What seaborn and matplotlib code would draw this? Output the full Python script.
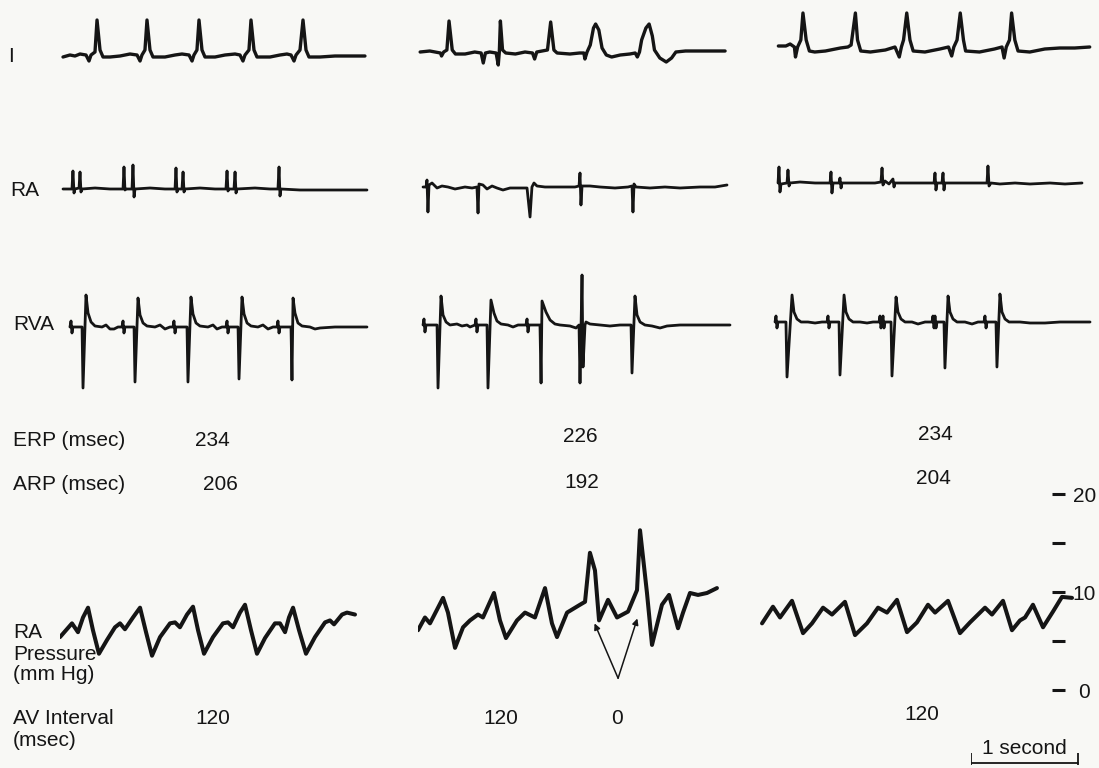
import numpy as np
import pandas as pd
import matplotlib
matplotlib.use("Agg")
import matplotlib.pyplot as plt
import seaborn as sns

# Traces. Time in seconds from the start of each panel,
# ECG deflections in mm of paper, RA pressure in mm Hg.

# lead I
I1_T = [0.028, 0.093, 0.140, 0.187, 0.243, 0.271, 0.290, 0.327, 0.346, 0.374, 0.402, 0.467, 0.561, 0.654,
        0.720, 0.748, 0.766, 0.794, 0.813, 0.841, 0.869, 0.981, 1.075, 1.140, 1.206, 1.234, 1.252, 1.280,
        1.299, 1.327, 1.355, 1.449, 1.542, 1.636, 1.682, 1.710, 1.729, 1.766, 1.785, 1.813, 1.841, 1.963,
        2.056, 2.121, 2.159, 2.187, 2.206, 2.243, 2.271, 2.299, 2.327, 2.430, 2.570, 2.710, 2.850]
I1_V = [-0.2, 0, -0.1, 0.1, 0, -0.6, 0, 0.3, 3.5, 0.5, -0.2, -0.2, -0.1, 0.1,
        0, -0.6, 0, 0.5, 3.5, 0.5, -0.2, -0.2, 0, 0.1, 0, -0.6, 0, 0.5,
        3.5, 0.5, -0.2, -0.2, 0, 0.1, 0, -0.6, 0, 0.5, 3.5, 0.5, -0.2, -0.2,
        0, 0.1, 0, -0.6, 0, 0.5, 3.5, 0.5, -0.2, -0.2, -0.1, -0.1, -0.1]
I2_T = [0.02, 0.11, 0.21, 0.22, 0.24, 0.27, 0.29, 0.32, 0.35, 0.44, 0.53, 0.59, 0.61, 0.63, 0.67, 0.73,
        0.75, 0.76, 0.77, 0.79, 0.82, 0.91, 1.00, 1.07, 1.09, 1.11, 1.21, 1.24, 1.27, 1.30, 1.42, 1.51,
        1.55, 1.56, 1.58, 1.61, 1.64, 1.66, 1.69, 1.72, 1.76, 1.81, 1.89, 1.98, 2.03, 2.05, 2.07, 2.09,
        2.13, 2.16, 2.19, 2.21, 2.26, 2.32, 2.37, 2.41, 2.50, 2.64, 2.78, 2.87]
I2_V = [0, 0.1, -0.1, -0.4, 0, 0.2, 3.1, 0.2, -0.2, -0.2, 0, -0.1, -1.1, -0.1, 0, -0.1,
        -1.3, 0, 3.1, 0.2, -0.1, -0.2, 0, -0.1, -0.7, 0, 0.2, 3.0, 0.2, -0.1, -0.2, -0.1,
        -0.1, -0.7, 0, 0.7, 2.4, 2.8, 2.2, 0.4, -0.3, -0.5, -0.3, -0.2, -0.1, -0.5, 0, 1.2,
        2.4, 2.8, 1.6, 0.2, -0.6, -1.0, -0.6, 0, 0.1, 0.1, 0.1, 0.1]
I3_T = [0.05, 0.12, 0.16, 0.20, 0.21, 0.23, 0.26, 0.28, 0.31, 0.34, 0.39, 0.49, 0.63, 0.70, 0.73, 0.77,
        0.79, 0.82, 0.91, 1.05, 1.14, 1.18, 1.20, 1.22, 1.25, 1.28, 1.31, 1.42, 1.56, 1.64, 1.67, 1.69,
        1.72, 1.75, 1.78, 1.80, 1.93, 2.07, 2.14, 2.16, 2.18, 2.21, 2.23, 2.26, 2.29, 2.40, 2.54, 2.68,
        2.82, 2.96]
I3_V = [0.1, 0.1, 0.3, 0, -1.0, 0, 0.7, 3.4, 0.7, -0.4, -0.5, -0.4, -0.1, 0, 0.2, 3.4,
        0.7, -0.4, -0.5, -0.3, 0, -1.0, 0, 0.7, 3.4, 0.7, -0.4, -0.5, -0.2, 0, -0.9, 0,
        0.7, 3.4, 0.7, -0.4, -0.5, -0.2, 0, -1.1, 0, 0.7, 3.4, 0.7, -0.4, -0.5, -0.2, -0.1,
        -0.1, 0]

# right atrial electrogram
RA1_T = [0.028, 0.112, 0.121, 0.131, 0.140, 0.178, 0.187, 0.196, 0.206, 0.327, 0.467, 0.589, 0.598,
         0.607, 0.617, 0.673, 0.682, 0.692, 0.701, 0.841, 0.981, 1.075, 1.084, 1.093, 1.103, 1.140,
         1.150, 1.159, 1.168, 1.308, 1.449, 1.551, 1.561, 1.570, 1.579, 1.626, 1.636, 1.645, 1.654,
         1.822, 1.963, 2.037, 2.047, 2.056, 2.065, 2.243, 2.523, 2.869]
RA1_V = [0, 0, 1.8, -0.4, 0, 0.1, 1.7, -0.3, 0, 0.1, 0, 0, 2.2,
         -0.1, 0, 0, 2.4, -0.8, 0, 0.1, 0, 0, 2.1, -0.3, 0, 0,
         1.7, -0.3, 0, 0.1, 0, 0, 1.8, -0.2, 0, 0, 1.7, -0.4, 0,
         0.1, 0, 0, 2.2, -0.7, 0, -0.1, -0.1, -0.1]
RA2_T = [0.047, 0.075, 0.084, 0.093, 0.103, 0.131, 0.178, 0.224, 0.280, 0.346, 0.439, 0.505, 0.551,
         0.561, 0.570, 0.607, 0.645, 0.692, 0.738, 0.794, 0.860, 0.953, 1.019, 1.047, 1.065, 1.084,
         1.112, 1.187, 1.327, 1.467, 1.505, 1.514, 1.523, 1.533, 1.607, 1.701, 1.841, 1.963, 2.000,
         2.009, 2.019, 2.037, 2.168, 2.308, 2.449, 2.636, 2.776, 2.888]
RA2_V = [0, 0, 0.7, -2.5, 0.2, 0.4, -0.1, 0.1, 0, -0.2, 0, -0.1, 0,
         -2.6, 0.3, 0.2, -0.2, 0.1, -0.1, -0.3, -0.1, -0.1, -0.1, -3.0, 0, 0.4,
         0.1, 0, 0, 0, 0.1, 1.4, -1.8, 0.1, 0.1, 0, -0.1, 0, 0.1,
         -2.5, 0.3, 0, -0.1, 0, -0.1, 0, 0, 0.2]
RA3_T = [0.047, 0.056, 0.065, 0.075, 0.131, 0.140, 0.150, 0.159, 0.252, 0.393, 0.533, 0.542, 0.551,
         0.561, 0.617, 0.626, 0.636, 0.645, 0.813, 0.953, 1.009, 1.019, 1.028, 1.047, 1.084, 1.121,
         1.131, 1.140, 1.280, 1.421, 1.505, 1.514, 1.523, 1.533, 1.579, 1.589, 1.598, 1.607, 1.794,
         1.935, 2.000, 2.009, 2.019, 2.037, 2.121, 2.262, 2.402, 2.589, 2.729, 2.888]
RA3_V = [0, 1.6, -0.9, -0.1, 0, 1.3, -0.3, 0, 0.1, 0, 0, 1.1, -1.0,
         0, 0, 0.5, -0.5, 0, 0, 0, 0.1, 1.5, -0.2, 0.2, -0.1, 0.4,
         -0.4, 0, 0, 0, 0, 1.0, -0.7, 0, 0, 1.0, -0.7, 0, 0,
         0, 0, 1.7, -0.3, 0, -0.1, 0, -0.1, 0, -0.1, 0]

# right ventricular apex electrogram
RVA1_T = [0.093, 0.103, 0.112, 0.121, 0.206, 0.215, 0.243, 0.262, 0.290, 0.327, 0.393, 0.430, 0.467,
          0.505, 0.542, 0.579, 0.589, 0.598, 0.607, 0.692, 0.701, 0.729, 0.748, 0.776, 0.813, 0.888,
          0.935, 0.981, 1.028, 1.056, 1.065, 1.075, 1.084, 1.187, 1.196, 1.224, 1.243, 1.271, 1.308,
          1.383, 1.430, 1.467, 1.514, 1.551, 1.561, 1.570, 1.579, 1.664, 1.673, 1.701, 1.720, 1.748,
          1.785, 1.850, 1.897, 1.944, 1.991, 2.028, 2.037, 2.047, 2.056, 2.159, 2.168, 2.178, 2.196,
          2.224, 2.262, 2.336, 2.383, 2.430, 2.570, 2.710, 2.869]
RVA1_V = [0, 0.6, -0.6, 0, 0, -6.1, 3.2, 1.4, 0.5, 0.1, 0, 0.2, -0.2,
          -0.2, 0, 0, 0.6, -0.6, 0, 0, -5.5, 2.9, 1.2, 0.4, 0.1, 0,
          0.2, -0.2, 0, 0, 0.6, -0.6, 0, 0, -5.5, 3.0, 1.3, 0.4, 0.1,
          0, 0.2, -0.2, 0, 0, 0.6, -0.6, 0, 0, -5.2, 3.0, 1.3, 0.4,
          0.1, 0, 0.2, -0.2, 0, 0, 0.6, -0.6, 0, 0, -5.3, 2.9, 1.4,
          0.4, 0.1, 0, -0.2, -0.1, 0, 0, 0]
RVA2_T = [0.047, 0.056, 0.065, 0.075, 0.178, 0.187, 0.215, 0.234, 0.262, 0.299, 0.364, 0.411, 0.458,
          0.486, 0.533, 0.542, 0.551, 0.561, 0.645, 0.654, 0.682, 0.710, 0.738, 0.776, 0.841, 0.888,
          0.935, 1.009, 1.019, 1.028, 1.037, 1.140, 1.150, 1.159, 1.196, 1.234, 1.280, 1.327, 1.421,
          1.477, 1.505, 1.514, 1.533, 1.542, 1.561, 1.570, 1.607, 1.701, 1.794, 1.888, 1.991, 2.000,
          2.028, 2.047, 2.075, 2.121, 2.187, 2.262, 2.327, 2.449, 2.636, 2.916]
RVA2_V = [0, 0.6, -0.7, 0, 0, -6.3, 2.9, 1.0, 0.3, 0, 0.1, -0.1, 0,
          -0.2, 0, 0.6, -0.7, 0, 0, -6.3, 2.5, 1.2, 0.4, 0.1, 0, -0.2,
          0, 0, 0.6, -0.7, 0, 0, -5.8, 2.4, 1.3, 0.5, 0.1, 0, -0.1,
          -0.3, 0, -5.8, 5.0, -4.2, 0, 0.3, 0.1, 0, -0.1, 0, 0, -4.8,
          2.9, 1.0, 0.3, 0, -0.1, -0.3, -0.1, 0, 0, 0]
RVA3_T = [0.019, 0.028, 0.037, 0.047, 0.121, 0.131, 0.178, 0.196, 0.224, 0.262, 0.327, 0.393, 0.458,
          0.505, 0.514, 0.523, 0.533, 0.617, 0.626, 0.664, 0.682, 0.710, 0.748, 0.813, 0.879, 0.935,
          0.991, 1.000, 1.009, 1.019, 1.028, 1.037, 1.047, 1.103, 1.112, 1.150, 1.168, 1.196, 1.234,
          1.299, 1.355, 1.421, 1.486, 1.495, 1.505, 1.514, 1.523, 1.533, 1.598, 1.607, 1.636, 1.654,
          1.682, 1.720, 1.794, 1.860, 1.916, 1.972, 1.981, 1.991, 2.000, 2.084, 2.093, 2.121, 2.140,
          2.168, 2.206, 2.308, 2.402, 2.542, 2.682, 2.822, 2.963]
RVA3_V = [0, 0.6, -0.6, 0, 0, -5.5, 2.7, 1.0, 0.3, 0, 0, -0.1, 0,
          0, 0.6, -0.6, 0, 0, -5.3, 2.7, 1.0, 0.3, 0, 0, -0.1, 0,
          0, 0.6, -0.6, 0, 0.6, -0.6, 0, 0, -5.4, 2.5, 1.0, 0.3, 0,
          0, -0.2, 0, 0, 0.6, -0.6, 0.6, -0.6, 0, 0, -4.6, 2.6, 1.0,
          0.3, 0, 0, -0.2, 0, 0, 0.6, -0.6, 0, 0, -4.5, 2.8, 1.0,
          0.3, 0, 0, -0.1, -0.1, 0, 0, 0]

# right atrial pressure (mm Hg)
P1_T = [0.000, 0.112, 0.168, 0.215, 0.262, 0.308, 0.364, 0.439, 0.514, 0.561, 0.607, 0.682, 0.748,
        0.804, 0.860, 0.935, 1.028, 1.075, 1.121, 1.187, 1.243, 1.290, 1.346, 1.430, 1.523, 1.570,
        1.617, 1.682, 1.729, 1.785, 1.841, 1.916, 2.009, 2.056, 2.103, 2.140, 2.178, 2.234, 2.299,
        2.383, 2.477, 2.523, 2.561, 2.636, 2.682, 2.757]
P1_V = [5.4, 6.8, 5.9, 7.4, 8.4, 6.1, 3.7, 5.1, 6.4, 6.8, 6.2, 7.4, 8.4,
        5.9, 3.5, 5.4, 6.8, 6.9, 6.4, 7.7, 8.5, 6.1, 3.7, 5.4, 6.8, 6.9,
        6.4, 7.9, 8.7, 6.1, 3.7, 5.3, 6.8, 6.8, 5.9, 7.4, 8.4, 6.1, 3.7,
        5.4, 6.9, 7.1, 6.7, 7.7, 7.9, 7.7]
P2_T = [0.000, 0.065, 0.112, 0.234, 0.280, 0.346, 0.421, 0.486, 0.561, 0.607, 0.710, 0.766, 0.822,
        0.925, 1.000, 1.093, 1.187, 1.252, 1.299, 1.393, 1.514, 1.561, 1.607, 1.654, 1.692, 1.776,
        1.860, 1.963, 2.047, 2.075, 2.140, 2.187, 2.280, 2.346, 2.430, 2.477, 2.542, 2.617, 2.701,
        2.794]
P2_V = [6.1, 7.4, 6.8, 9.4, 7.9, 4.3, 6.4, 7.1, 7.7, 7.4, 9.9, 7.1, 5.3,
        7.1, 7.9, 7.4, 10.4, 6.8, 5.4, 7.9, 8.7, 9.0, 14.0, 12.2, 7.1, 9.2,
        7.4, 8.0, 10.2, 16.3, 9.9, 4.6, 8.7, 9.7, 6.3, 7.9, 9.9, 9.7, 9.9,
        10.4]
P3_T = [0.019, 0.121, 0.187, 0.299, 0.402, 0.486, 0.589, 0.673, 0.794, 0.888, 1.000, 1.103, 1.187,
        1.280, 1.374, 1.467, 1.570, 1.636, 1.757, 1.869, 1.963, 2.103, 2.168, 2.271, 2.355, 2.430,
        2.477, 2.551, 2.645, 2.738, 2.822, 2.916]
P3_V = [6.8, 8.5, 7.4, 9.1, 5.8, 6.8, 8.4, 7.7, 9.0, 5.6, 6.8, 8.4, 7.9,
        9.2, 5.9, 6.9, 8.7, 7.9, 9.1, 5.8, 6.9, 8.4, 7.7, 9.1, 6.1, 7.1,
        7.4, 8.7, 6.4, 8.0, 9.5, 9.4]

# arrows in the middle pressure panel (time s, mm Hg)
ARROW_BASE = (1.87, 1.2)
ARROW_TIP_T = [1.65, 2.05]
ARROW_TIP_P = [6.8, 7.3]

# annotations
ERP = ["234", "226", "234"]
ARP = ["206", "192", "204"]
AV_INTERVAL = ["120", "120", "0", "120"]
PRESSURE_TICKS = [0, 5, 10, 15, 20]
PRESSURE_LABELS = ["0", "", "10", "", "20"]
SCALE_BAR_S = 1.0

sns.set_theme(style="white")
plt.rcParams["font.family"] = ["Liberation Sans", "DejaVu Sans"]

W, H = 1099, 768
PX_PER_S = 107.0
PANEL_W = 322
BG = "#f8f8f5"
INK = "#151515"
FS = 15

fig = plt.figure(figsize=(W / 100, H / 100), dpi=100)
fig.patch.set_facecolor(BG)


def panel_ax(x0, base, up, down, px_per_unit, width=PANEL_W):
    ax = fig.add_axes([x0 / W, 1 - (base + down) / H, width / W, (up + down) / H])
    ax.patch.set_alpha(0)
    return ax, (0, width / PX_PER_S), (-down / px_per_unit, up / px_per_unit)


def draw(ax, lims, t, v, lw):
    df = pd.DataFrame({"t": t, "v": v})
    sns.lineplot(data=df, x="t", y="v", ax=ax, color=INK, lw=lw, sort=False,
                 estimator=None, solid_joinstyle="round", solid_capstyle="round")
    ax.set_xlim(*lims[0])
    ax.set_ylim(*lims[1])
    ax.axis("off")


ecg_x0 = [60, 418, 773]
rows = [
    ([(I1_T, I1_V), (I2_T, I2_V), (I3_T, I3_V)], [55, 52, 47], 50, 20, 2.4),
    ([(RA1_T, RA1_V), (RA2_T, RA2_V), (RA3_T, RA3_V)], [189, 187, 183], 30, 35, 2.0),
    ([(RVA1_T, RVA1_V), (RVA2_T, RVA2_V), (RVA3_T, RVA3_V)], [327, 325, 322], 60, 70, 2.0),
]
for traces, bases, up, down, lw in rows:
    for (t, v), x0, base in zip(traces, ecg_x0, bases):
        ax, xl, yl = panel_ax(x0, base, up, down, 10.0)
        draw(ax, (xl, yl), t, v, lw)

# pressure row: 0 mm Hg at y=690 px, 9.8 px per mm Hg
P_BASE, P_PPU = 690, 9.8
press_axes = []
for (t, v), x0 in zip([(P1_T, P1_V), (P2_T, P2_V), (P3_T, P3_V)], [60, 418, 760]):
    ax, xl, yl = panel_ax(x0, P_BASE, 216, 10, P_PPU)
    draw(ax, (xl, yl), t, v, 2.9)
    press_axes.append(ax)

for tt, pp in zip(ARROW_TIP_T, ARROW_TIP_P):
    press_axes[1].annotate("", xy=(tt, pp), xytext=ARROW_BASE,
                           arrowprops=dict(arrowstyle="-|>", color=INK, lw=1.1,
                                           mutation_scale=9, shrinkA=0, shrinkB=0))

# pressure scale on the right
sax, _, syl = panel_ax(1045, P_BASE, 216, 10, P_PPU, width=20)
sax.set_ylim(*syl)
sax.set_xticks([])
sax.yaxis.tick_right()
sax.set_yticks(PRESSURE_TICKS)
sax.set_yticklabels(PRESSURE_LABELS)
sax.tick_params(axis="y", direction="in", length=9.5, width=2.2, color=INK,
                labelsize=FS, labelcolor=INK, pad=14)
for lab in sax.get_yticklabels():
    lab.set_ha("center")
for s in sax.spines.values():
    s.set_visible(False)

# 1-second scale bar
bax = fig.add_axes([971 / W, 1 - 768 / H, 140 / W, 30 / H])
bax.patch.set_alpha(0)
bax.plot([0, SCALE_BAR_S], [0, 0], color=INK, lw=1.3)
bax.vlines([0, SCALE_BAR_S], -0.15, 1.0, color=INK, lw=1.3)
bax.text(SCALE_BAR_S / 2, 0.55, "1 second", ha="center", va="bottom", fontsize=FS, color=INK)
bax.set_xlim(0, 140 / PX_PER_S)
bax.set_ylim(-0.5, 2.5)
bax.axis("off")


def ftext(x, y, s, ha="left"):
    fig.text(x / W, 1 - y / H, s, ha=ha, va="center", fontsize=FS, color=INK)


ftext(8, 57, "I")
ftext(10, 190, "RA")
ftext(13, 325, "RVA")
ftext(13, 440, "ERP (msec)")
ftext(13, 484, "ARP (msec)")
for s, x, y in zip(ERP, [212, 580, 935], [440, 437, 434]):
    ftext(x, y, s, ha="center")
for s, x, y in zip(ARP, [220, 582, 933], [484, 482, 479]):
    ftext(x, y, s, ha="center")
ftext(13, 633, "RA")
ftext(13, 654, "Pressure")
ftext(13, 675, "(mm Hg)")
ftext(13, 718, "AV Interval")
ftext(13, 741, "(msec)")
for s, x, y in zip(AV_INTERVAL, [213, 501, 617, 922], [718, 718, 718, 714]):
    ftext(x, y, s, ha="center")

fig.savefig("out.png", dpi=100, facecolor=BG)
